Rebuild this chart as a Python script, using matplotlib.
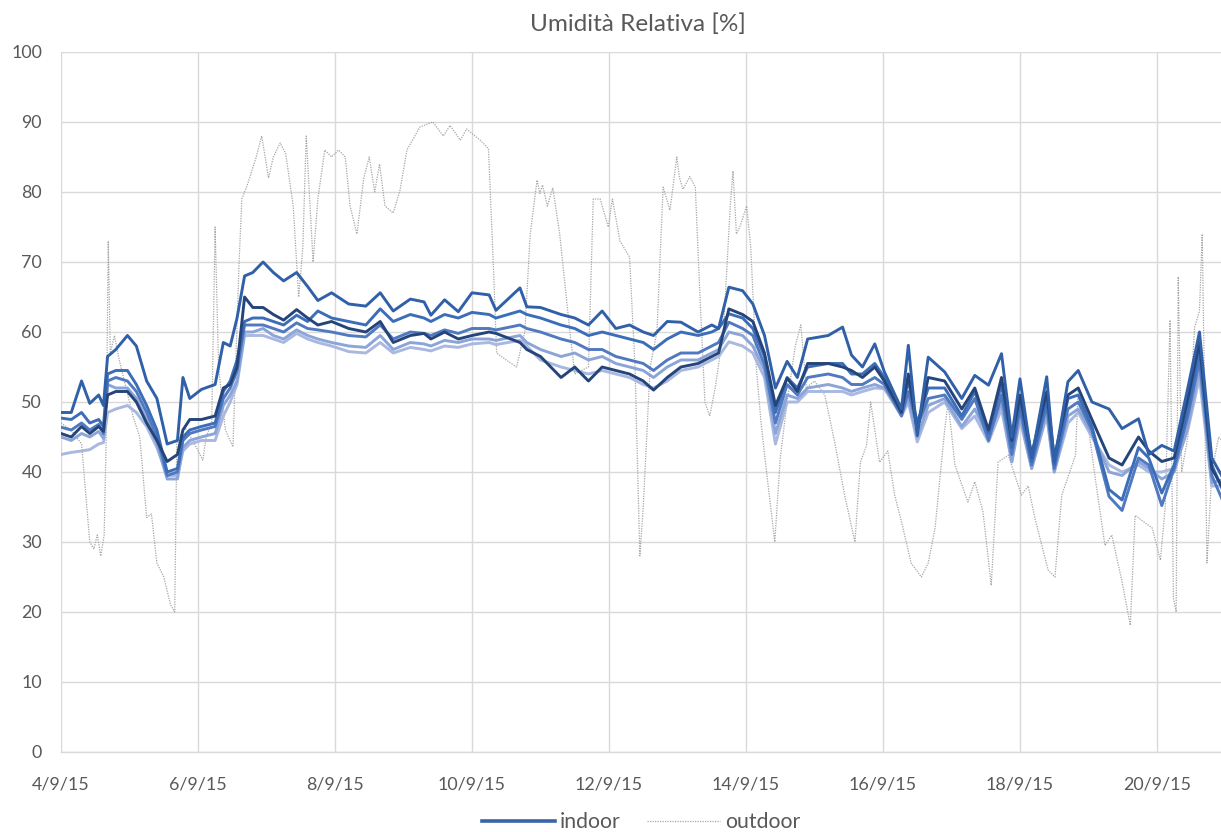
import numpy as np
import pandas as pd
import matplotlib
matplotlib.use("Agg")
import matplotlib.pyplot as plt
from matplotlib.lines import Line2D

plt.rcParams['font.family'] = ['Lato', 'DejaVu Sans']

# ---------------- data ----------------
title = "Umidità Relativa [%]"
start_date = "2015-09-04"
x_tick_days = [0, 2, 4, 6, 8, 10, 12, 14, 16]
x_tick_labels = ["4/9/15", "6/9/15", "8/9/15", "10/9/15", "12/9/15",
                 "14/9/15", "16/9/15", "18/9/15", "20/9/15"]
y_ticks = [0, 10, 20, 30, 40, 50, 60, 70, 80, 90, 100]
legend_labels = ["indoor", "outdoor"]

# time of indoor samples, days since 4/9/15 00:00
indoor_t = [0.0, 0.15, 0.3, 0.42, 0.55, 0.62, 0.68, 0.8, 0.97, 1.1,
            1.25, 1.4, 1.55, 1.7, 1.78, 1.88, 2.05, 2.25, 2.37, 2.47,
            2.57, 2.68, 2.8, 2.95, 3.1, 3.25, 3.44, 3.6, 3.75, 3.95,
            4.2, 4.45, 4.66, 4.85, 5.1, 5.3, 5.4, 5.6, 5.8, 6.0,
            6.25, 6.35, 6.7, 6.8, 7.0, 7.3, 7.5, 7.7, 7.9, 8.1,
            8.3, 8.5, 8.65, 8.85, 9.05, 9.3, 9.5, 9.6, 9.75, 9.95,
            10.1, 10.27, 10.43, 10.6, 10.75, 10.9, 11.2, 11.41, 11.54, 11.7,
            11.88, 12.02, 12.27, 12.37, 12.5, 12.66, 12.9, 13.15, 13.34, 13.54,
            13.73, 13.88, 14.0, 14.17, 14.39, 14.5, 14.7, 14.85, 15.05, 15.3,
            15.49, 15.73, 15.88, 16.07, 16.25, 16.45, 16.62, 16.8, 17.0]

indoor_1 = [48.5, 48.5, 53.0, 49.8, 51.0, 49.5, 56.5, 57.5, 59.5, 58.0,
            53.0, 50.5, 44.0, 44.5, 53.5, 50.5, 51.8, 52.5, 58.5, 58.0,
            62.0, 68.0, 68.5, 70.0, 68.5, 67.3, 68.5, 66.5, 64.5, 65.6,
            64.0, 63.7, 65.6, 63.0, 64.7, 64.3, 62.4, 64.6, 62.9, 65.6,
            65.3, 63.1, 66.3, 63.6, 63.5, 62.5, 62.0, 61.0, 63.0, 60.5,
            61.0, 60.0, 59.5, 61.5, 61.4, 60.0, 61.0, 60.5, 66.4, 65.9,
            64.0, 59.5, 52.0, 55.8, 53.5, 59.0, 59.5, 60.7, 56.7, 55.0,
            58.3, 54.3, 49.0, 58.1, 45.2, 56.4, 54.3, 50.5, 53.8, 52.4,
            56.9, 45.0, 53.3, 42.0, 53.6, 41.4, 52.9, 54.5, 50.0, 49.0,
            46.2, 47.6, 42.5, 43.8, 43.0, 52.0, 60.0, 42.0, 38.5]

indoor_2 = [45.5, 45.0, 46.5, 45.5, 46.5, 45.8, 51.0, 51.5, 51.5, 50.0,
            47.0, 44.5, 41.5, 42.5, 46.0, 47.5, 47.5, 48.0, 52.0, 52.5,
            55.0, 65.0, 63.5, 63.5, 62.5, 61.7, 63.2, 62.0, 61.0, 61.5,
            60.5, 60.0, 61.5, 58.5, 59.5, 59.8, 59.0, 60.0, 59.0, 59.5,
            60.0, 59.8, 58.5, 57.5, 56.5, 53.5, 55.0, 53.0, 55.0, 54.5,
            54.0, 53.0, 51.7, 53.5, 55.0, 55.5, 56.5, 57.0, 63.3, 62.5,
            61.5, 57.0, 49.5, 53.4, 51.5, 55.5, 55.5, 55.0, 54.5, 53.5,
            55.0, 53.0, 48.5, 54.0, 46.0, 53.5, 53.0, 49.0, 52.0, 46.0,
            53.5, 44.5, 51.0, 42.5, 51.5, 42.0, 51.0, 52.0, 47.5, 42.0,
            41.0, 45.0, 43.0, 41.5, 42.0, 50.5, 58.6, 40.5, 37.0]

indoor_3 = [47.7, 47.5, 48.5, 47.0, 47.5, 46.5, 54.0, 54.5, 54.5, 52.5,
            49.5, 46.0, 40.0, 40.5, 45.0, 46.0, 46.5, 47.0, 51.5, 53.0,
            56.0, 61.5, 62.0, 62.0, 61.5, 61.0, 62.4, 61.5, 63.0, 62.0,
            61.5, 61.0, 63.3, 61.5, 62.5, 62.0, 61.5, 62.5, 62.0, 62.8,
            62.5, 62.0, 63.0, 62.5, 62.0, 61.0, 60.5, 59.5, 60.0, 59.5,
            59.0, 58.5, 57.5, 59.0, 60.0, 59.5, 60.0, 60.5, 62.6, 62.0,
            60.5, 56.5, 48.5, 53.5, 52.0, 55.0, 55.5, 55.5, 54.0, 54.0,
            55.5, 53.5, 49.0, 53.0, 47.0, 52.0, 52.0, 48.0, 51.5, 45.5,
            52.5, 43.5, 50.0, 41.5, 50.5, 41.0, 50.5, 51.0, 46.5, 37.5,
            36.0, 43.5, 42.0, 37.0, 41.0, 49.0, 57.5, 41.0, 36.5]

indoor_4 = [46.4, 46.0, 47.0, 46.0, 46.8, 45.5, 53.0, 53.5, 53.0, 51.5,
            48.5, 45.0, 39.5, 40.0, 44.5, 45.5, 46.0, 46.5, 50.5, 52.0,
            54.5, 61.0, 61.0, 61.0, 60.5, 60.0, 61.3, 60.5, 60.3, 60.0,
            59.5, 59.3, 61.0, 59.0, 60.0, 59.8, 59.5, 60.3, 59.8, 60.5,
            60.5, 60.3, 61.0, 60.5, 60.0, 59.0, 58.5, 57.5, 57.5, 56.5,
            56.0, 55.5, 54.5, 56.0, 57.0, 57.0, 58.0, 58.5, 61.4, 60.5,
            59.5, 55.3, 47.0, 52.5, 51.0, 53.5, 54.0, 53.5, 52.5, 52.5,
            53.5, 52.5, 48.0, 51.5, 46.5, 50.5, 51.0, 47.5, 50.5, 44.5,
            51.0, 42.5, 49.0, 41.0, 49.5, 40.5, 49.0, 50.0, 46.0, 36.5,
            34.5, 42.0, 41.0, 35.2, 40.5, 48.0, 56.0, 39.5, 35.0]

indoor_5 = [45.0, 44.5, 45.5, 45.0, 45.8, 44.8, 52.5, 52.0, 52.0, 50.5,
            47.5, 44.0, 39.0, 39.0, 43.5, 44.5, 45.0, 45.5, 49.5, 51.0,
            53.0, 60.0, 60.0, 60.5, 59.5, 59.0, 60.3, 59.5, 59.0, 58.5,
            58.0, 57.8, 59.5, 57.5, 58.5, 58.3, 58.0, 58.8, 58.5, 59.0,
            59.0, 58.8, 59.5, 58.5, 57.5, 56.5, 57.0, 56.0, 56.5, 55.5,
            55.0, 54.5, 53.5, 55.0, 56.0, 56.0, 57.0, 57.5, 60.0, 59.5,
            58.0, 54.5, 45.5, 51.0, 50.5, 52.0, 52.5, 52.0, 51.5, 52.0,
            52.5, 52.0, 48.5, 50.5, 45.0, 49.5, 50.5, 46.5, 49.0, 45.0,
            50.0, 41.5, 48.0, 40.5, 48.5, 40.0, 48.0, 49.0, 45.5, 40.0,
            39.5, 41.5, 40.5, 39.0, 40.0, 46.5, 55.0, 38.5, 39.0]

indoor_6 = [42.5, 42.8, 43.0, 43.2, 44.0, 44.2, 48.5, 49.0, 49.5, 48.5,
            46.5, 43.5, 39.5, 39.5, 43.0, 44.0, 44.5, 44.5, 48.0, 50.0,
            52.5, 59.5, 59.5, 59.5, 59.0, 58.5, 59.8, 59.0, 58.5, 58.0,
            57.2, 57.0, 58.5, 57.0, 57.8, 57.5, 57.3, 58.0, 57.8, 58.3,
            58.5, 58.2, 58.8, 58.0, 56.0, 55.0, 54.5, 54.0, 54.5, 54.0,
            53.5, 52.5, 52.0, 53.0, 54.5, 55.0, 56.0, 56.5, 58.6, 58.0,
            57.0, 53.5, 44.0, 50.0, 50.0, 51.5, 51.5, 51.5, 51.0, 51.5,
            52.0, 51.9, 48.0, 50.0, 44.3, 48.5, 50.0, 46.2, 48.0, 44.3,
            49.0, 41.4, 47.5, 40.5, 48.0, 40.0, 47.0, 48.5, 45.0, 41.0,
            40.0, 41.0, 40.0, 40.0, 40.5, 46.0, 53.5, 38.0, 38.0]

outdoor_t = [0.0, 0.15, 0.3, 0.36, 0.42, 0.48, 0.53, 0.58, 0.63, 0.66,
             0.69, 0.72, 0.78, 0.85, 0.95, 1.05, 1.15, 1.25, 1.32, 1.4,
             1.5, 1.6, 1.66, 1.69, 1.8, 1.95, 2.07, 2.12, 2.2, 2.25,
             2.3, 2.4, 2.51, 2.6, 2.64, 2.72, 2.85, 2.93, 3.03, 3.1,
             3.2, 3.28, 3.39, 3.47, 3.53, 3.58, 3.68, 3.75, 3.85, 3.95,
             4.05, 4.15, 4.22, 4.32, 4.42, 4.5, 4.58, 4.65, 4.73, 4.85,
             4.95, 5.05, 5.24, 5.43, 5.58, 5.68, 5.83, 5.92, 6.12, 6.24,
             6.31, 6.36, 6.5, 6.65, 6.77, 6.85, 6.95, 6.99, 7.03, 7.1,
             7.18, 7.28, 7.43, 7.5, 7.7, 7.77, 7.87, 7.99, 8.05, 8.16,
             8.3, 8.38, 8.45, 8.5, 8.6, 8.7, 8.79, 8.89, 8.99, 9.03,
             9.08, 9.18, 9.26, 9.33, 9.4, 9.47, 9.55, 9.67, 9.77, 9.81,
             9.86, 9.91, 10.01, 10.07, 10.15, 10.22, 10.3, 10.42, 10.5, 10.6,
             10.72, 10.8, 10.88, 11.0, 11.15, 11.3, 11.44, 11.59, 11.67, 11.76,
             11.82, 11.95, 12.07, 12.17, 12.27, 12.41, 12.56, 12.66, 12.76, 12.9,
             12.95, 13.05, 13.24, 13.34, 13.46, 13.58, 13.68, 13.83, 14.02, 14.12,
             14.22, 14.41, 14.51, 14.61, 14.81, 14.85, 14.95, 15.1, 15.24, 15.34,
             15.49, 15.61, 15.68, 15.93, 16.05, 16.12, 16.19, 16.24, 16.28, 16.31,
             16.36, 16.45, 16.55, 16.62, 16.66, 16.73, 16.8, 16.9, 17.0]

outdoor_v = [47, 46, 44, 37, 30, 29, 31, 28, 31, 45,
             73, 57, 59.5, 56, 52, 48, 45, 33.5, 34, 27,
             25, 21, 20, 44, 46.5, 44, 41.7, 45, 47, 75,
             55, 46, 43.6, 70, 79, 81, 85, 88, 82, 85,
             87, 85.5, 78, 65, 72, 88, 70, 79, 86, 85,
             86, 85, 78, 74, 82, 85, 80, 84, 78, 77,
             80.3, 86, 89.3, 90, 88, 89.5, 87.4, 89, 87.4, 86.2,
             70, 57, 56, 55, 60, 74, 81.7, 79.8, 81, 78,
             80.6, 74, 60, 54, 55, 79, 79, 75, 79, 73,
             70.7, 55, 28, 35, 55, 60, 80.7, 77.4, 85, 82,
             80.4, 82.2, 80.7, 64.6, 50, 48, 52, 60, 78, 83,
             74, 75, 78, 72, 55, 47, 40, 30, 42, 50,
             58, 61, 52, 53, 51, 44, 36.7, 30, 41.4, 43.8,
             50, 41.4, 43, 36.7, 32.9, 27, 25, 27, 32, 46,
             50, 41, 35.7, 38.6, 34.3, 23.8, 41.4, 42.4, 36.7, 38,
             33.3, 26, 25, 36.7, 42.4, 52, 50, 39, 29.5, 31,
             24.3, 18.1, 33.8, 32, 27.4, 35, 61.7, 22, 20, 67.9,
             40, 45, 60.7, 63, 74, 27, 40, 45, 44]

# ---------------- styling ----------------
W, H = 1221, 832
PX = 72.0 / 100.0          # points per pixel at dpi 100
fig = plt.figure(figsize=(W / 100, H / 100), dpi=100)
renderer = fig.canvas.get_renderer()

def text_width(s, size):
    t = fig.text(0, 0, s, fontsize=size)
    w = t.get_window_extent(renderer).width
    t.remove()
    return w

def fit_size(s, target_px, ref=10.0):
    return ref * target_px / text_width(s, ref)

x0, x1 = 61, 61 + 17 * 68.5
y_top, y_bot = 52, 752
ax = fig.add_axes([x0 / W, (H - y_bot) / H, (x1 - x0) / W, (y_bot - y_top) / H])

base = pd.Timestamp(start_date)
def to_dates(t):
    return base + pd.to_timedelta(np.asarray(t, dtype=float), unit="D")

grid_c = "#d9d9d9"
text_c = "#595959"

# outdoor (below)
ax.plot(to_dates(outdoor_t), outdoor_v, color="#a6a6a6", lw=0.9,
        linestyle=(0, (1, 1)), zorder=2)

indoor_series = [indoor_6, indoor_5, indoor_4, indoor_3, indoor_2, indoor_1]
indoor_colors = ["#a9b8e0", "#8ba5d8", "#5079c0", "#3b6db8", "#25457a", "#3060a8"]
ti = to_dates(indoor_t)
for vals, c in zip(indoor_series, indoor_colors):
    ax.plot(ti, vals, color=c, lw=2.1, solid_joinstyle="round", zorder=3)

ax.set_xlim(to_dates([0])[0], to_dates([17])[0])
ax.set_ylim(0, 100)
ax.set_yticks(y_ticks)
ax.set_xticks(to_dates(x_tick_days))
ax.set_xticklabels(x_tick_labels)

ax.grid(True, color=grid_c, lw=1.0, zorder=0)
ax.set_axisbelow(True)
for s in ["top", "right", "left"]:
    ax.spines[s].set_visible(False)
ax.spines["bottom"].set_color(grid_c)
ax.spines["bottom"].set_linewidth(1.0)

tick_fs = fit_size("14/9/15", 68)
ax.tick_params(axis="both", length=0, labelsize=tick_fs, labelcolor=text_c)
ax.tick_params(axis="y", pad=19 * PX)
ax.tick_params(axis="x", pad=24 * PX)

title_fs = fit_size(title, 215)
fig.text(638 / W, 1 - 24 / H, title, ha="center", va="center",
         fontsize=title_fs, color=text_c)

leg_fs = fit_size("outdoor", 76)
em = leg_fs / PX  # font size in pixels
handles = [Line2D([], [], color="#3a64a8", lw=2.6),
           Line2D([], [], color="#a6a6a6", lw=0.9, linestyle=(0, (1, 1)))]
fig.legend(handles, legend_labels, loc="center", bbox_to_anchor=(641 / W, 1 - 822 / H),
           ncol=2, frameon=False, fontsize=leg_fs, handlelength=73 / em,
           handletextpad=5 / em, columnspacing=26 / em, labelcolor=text_c,
           borderpad=0, borderaxespad=0)

fig.savefig("out.png", dpi=100)
